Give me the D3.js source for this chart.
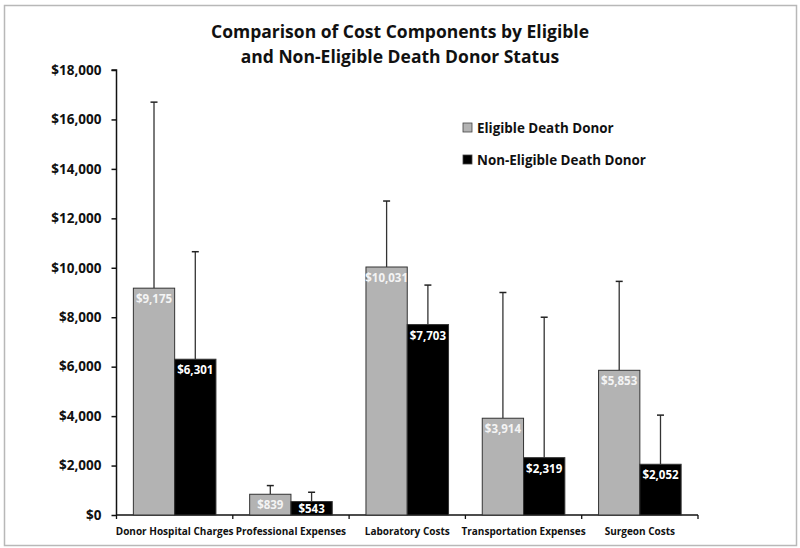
<!DOCTYPE html>
<html><head><meta charset="utf-8">
<script src="https://cdn.jsdelivr.net/npm/d3@7"></script>
<style>body{margin:0;background:#fff}svg{display:block}text{font-family:"Open Sans",sans-serif;font-weight:bold}</style>
</head><body><svg id="c" width="800" height="548"></svg>
<script>
const categories = ["Donor Hospital Charges","Professional Expenses","Laboratory Costs","Transportation Expenses","Surgeon  Costs"];
const seriesNames = ["Eligible Death Donor","Non-Eligible Death Donor"];
const eligible = [9175, 839, 10031, 3914, 5853];
const nonEligible = [6301, 543, 7703, 2319, 2052];
const eligibleUpper = [16700, 1190, 12700, 9000, 9450];
const nonEligibleUpper = [10650, 920, 9300, 8000, 4040];
const yTicks = [0,2000,4000,6000,8000,10000,12000,14000,16000,18000];

const svg = d3.select("#c");
svg.append("rect").attr("x",4.5).attr("y",5.5).attr("width",792).attr("height",540).attr("fill","#fff").attr("stroke","#b8b8b8").attr("stroke-width",1.5);

const pLeft=116.5, pRight=698, pTop=70, pBottom=515;
const x = d3.scaleBand().domain(categories).range([pLeft,pRight]).paddingInner(0).paddingOuter(0);
const y = d3.scaleLinear().domain([0,18000]).range([pBottom,pTop]);
const barW = x.bandwidth()*0.355;

svg.append("text").attr("x",400).attr("y",38).attr("text-anchor","middle").attr("font-size",17.5).attr("fill","#111").text("Comparison of Cost Components by Eligible");
svg.append("text").attr("x",400).attr("y",63).attr("text-anchor","middle").attr("font-size",17.5).attr("fill","#111").text("and Non-Eligible Death Donor Status");

const yAxis = d3.axisLeft(y).tickValues(yTicks).tickSize(5).tickFormat(d=>"$"+d3.format(",")(d));
const gy = svg.append("g").attr("transform",`translate(${pLeft},0)`).call(yAxis);
gy.select(".domain").attr("stroke","#111").attr("stroke-width",1.5).attr("d",`M-5,${pTop}H0V${pBottom}`);
gy.selectAll(".tick line").attr("stroke","#111").attr("stroke-width",1.5);
gy.selectAll(".tick text").attr("font-size",13.5).attr("fill","#111").attr("x",-15).attr("font-family","'Open Sans',sans-serif").attr("font-weight","bold");

const gx = svg.append("g").attr("transform",`translate(0,${pBottom})`);
gx.append("line").attr("x1",pLeft).attr("x2",pRight).attr("stroke","#111").attr("stroke-width",1.5);
const bounds = categories.map(c=>x(c)).concat([pRight]);
gx.selectAll("line.t").data(bounds).join("line").attr("class","t").attr("x1",d=>d).attr("x2",d=>d).attr("y1",0).attr("y2",4).attr("stroke","#111").attr("stroke-width",1.3);
gx.selectAll("text").data(categories).join("text").attr("x",d=>x(d)+x.bandwidth()/2).attr("y",20).attr("text-anchor","middle").attr("font-size",10).attr("fill","#111").text(d=>d);

const series = [
  {name:seriesNames[0], vals:eligible, up:eligibleUpper, fill:"#b3b3b3", label:"#f4f4f4", off:-barW},
  {name:seriesNames[1], vals:nonEligible, up:nonEligibleUpper, fill:"#000", label:"#fff", off:0}
];
series.forEach(s=>{
  const g = svg.append("g");
  const data = categories.map((c,i)=>({c, v:s.vals[i], u:s.up[i]}));
  const cx = d=>x(d.c)+x.bandwidth()/2+s.off+barW/2;
  g.selectAll("line.e").data(data).join("line").attr("class","e")
    .attr("x1",cx).attr("x2",cx)
    .attr("y1",d=>y(d.v)).attr("y2",d=>y(d.u)).attr("stroke","#333").attr("stroke-width",1.3);
  g.selectAll("line.cap").data(data).join("line").attr("class","cap")
    .attr("x1",d=>cx(d)-3.5).attr("x2",d=>cx(d)+3.5)
    .attr("y1",d=>y(d.u)).attr("y2",d=>y(d.u)).attr("stroke","#222").attr("stroke-width",1.5);
  g.selectAll("rect").data(data).join("rect")
    .attr("x",d=>cx(d)-barW/2).attr("width",barW)
    .attr("y",d=>y(d.v)).attr("height",d=>pBottom-y(d.v))
    .attr("fill",s.fill).attr("stroke","#333").attr("stroke-width",1);
  g.selectAll("text").data(data).join("text")
    .attr("x",cx).attr("y",d=>Math.min(y(d.v)+15, pBottom-2.5))
    .attr("text-anchor","middle").attr("font-size",11.5).attr("fill",s.label)
    .text(d=>"$"+d3.format(",")(d.v));
});

const lg = svg.append("g");
series.forEach((s,i)=>{
  const yy = 128 + i*32;
  lg.append("rect").attr("x",463).attr("y",yy-5).attr("width",9).attr("height",9).attr("fill",s.fill).attr("stroke","#444").attr("stroke-width",0.8);
  lg.append("text").attr("x",477).attr("y",yy+5).attr("font-size",13.4).attr("fill","#111").text(s.name);
});
</script></body></html>
